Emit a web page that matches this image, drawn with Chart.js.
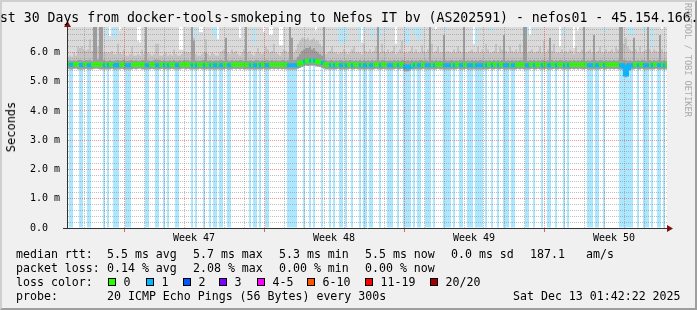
<!DOCTYPE html>
<html>
<head>
<meta charset="utf-8">
<title>Last 30 Days - nefos01</title>
<script src="https://cdn.jsdelivr.net/npm/chart.js@4.4.1/dist/chart.umd.min.js"></script>
<style>
html, body { margin: 0; padding: 0; background: #f0f0f0; }
#graph { position: relative; width: 697px; height: 310px; overflow: hidden; background: #f0f0f0;
         font-family: 'DejaVu Sans Mono', monospace; color: #000; }
#graph .frame { position: absolute; left: 0; top: 0; right: 0; bottom: 0; border: 2px solid;
                border-color: #cfcfcf #9e9e9e #9e9e9e #cfcfcf; }
#chart { position: absolute; left: 0; top: 0; }
#title { position: absolute; left: -16px; top: 10px; white-space: pre; font-size: 13.2px; line-height: 16px; }
#ylabel { position: absolute; left: 11px; top: 127px; white-space: pre; font-size: 12px; line-height: 14px;
          transform: translate(-50%, -50%) rotate(-90deg); }
#mark { position: absolute; left: 683px; top: 3px; writing-mode: vertical-rl; white-space: pre;
        font-size: 8.6px; line-height: 10px; color: #aaa; }
.txt { position: absolute; white-space: pre; font-size: 11.6px; line-height: 14px; }
.sw { position: absolute; top: 278px; width: 8px; height: 8px; box-sizing: border-box; border: 1px solid #000; }
</style>
</head>
<body>
<div id="graph">
  <div class="frame"></div>
  <canvas id="chart" width="697" height="310"></canvas>
  <div id="title">Last 30 Days from docker-tools-smokeping to Nefos IT bv (AS202591) - nefos01 - 45.154.166.</div>
  <div id="ylabel">Seconds</div>
  <div id="mark">RRDTOOL / TOBI OETIKER</div>

  <div class="txt" style="left:16px;top:247px">median rtt:</div>
  <div class="txt" style="left:107px;top:247px">5.5 ms avg</div>
  <div class="txt" style="left:193px;top:247px">5.7 ms max</div>
  <div class="txt" style="left:279px;top:247px">5.3 ms min</div>
  <div class="txt" style="left:365px;top:247px">5.5 ms now</div>
  <div class="txt" style="left:451px;top:247px">0.0 ms sd</div>
  <div class="txt" style="left:530px;top:247px">187.1</div>
  <div class="txt" style="left:586px;top:247px">am/s</div>

  <div class="txt" style="left:16px;top:261px">packet loss:</div>
  <div class="txt" style="left:107px;top:261px">0.14 % avg</div>
  <div class="txt" style="left:193px;top:261px">2.08 % max</div>
  <div class="txt" style="left:279px;top:261px">0.00 % min</div>
  <div class="txt" style="left:365px;top:261px">0.00 % now</div>

  <div class="txt" style="left:16px;top:275px">loss color:</div>
  <div id="legend"></div>

  <div class="txt" style="left:16px;top:289px">probe:</div>
  <div class="txt" style="left:107px;top:289px">20 ICMP Echo Pings (56 Bytes) every 300s</div>
  <div class="txt" style="left:513px;top:289px">Sat Dec 13 01:42:22 2025</div>
</div>

<script>
/* =====================
  data
===================== */

var lossColors = ['#26ff00', '#00b8ff', '#0059ff', '#7e00ff', '#ff00ff', '#ff5500', '#ff0000', '#a00000'];
var lossLabels = ['0', '1', '2', '3', '4-5', '6-10', '11-19', '20/20'];
var weekLabels = ['Week 47', 'Week 48', 'Week 49', 'Week 50'];
var yTop = 6.87; // ms at the top edge of the graph

// lost pings per slot (300 slots of 2.4 h, one line = one day)
var loss = [
  0,1,1,0,0,0,1,1,0,0,
  1,1,0,0,0,0,0,0,1,0,
  1,0,0,1,1,1,0,0,0,1,
  1,1,0,0,0,0,0,0,0,1,
  1,0,0,0,1,1,0,0,1,0,
  1,0,0,0,1,1,0,0,0,0,
  0,0,1,0,1,0,0,0,1,0,
  0,1,0,1,1,0,1,1,0,0,
  1,1,0,0,0,0,0,0,0,0,
  0,1,0,1,1,0,1,0,0,1,
  1,0,0,0,0,0,0,0,0,0,
  1,1,1,1,1,0,0,0,1,0,
  0,1,0,1,0,0,0,1,0,0,
  0,1,0,1,0,0,1,1,0,1,
  0,0,1,0,0,0,1,0,1,1,
  0,1,1,0,0,0,1,0,0,0,
  1,1,1,0,0,1,0,0,1,1,
  1,1,0,1,0,1,1,0,0,1,
  1,1,0,1,0,0,0,0,1,1,
  1,1,0,1,0,0,1,1,0,0,
  1,1,1,0,1,1,1,1,0,1,
  0,0,1,0,0,1,0,0,1,1,
  1,0,1,1,0,0,0,0,0,1,
  1,0,0,1,0,0,0,1,0,0,
  1,1,0,0,1,0,0,0,1,0,
  1,0,0,0,0,0,0,0,0,0,
  1,1,1,0,1,1,0,0,1,0,
  0,0,0,0,0,0,1,1,1,1,
  1,1,1,0,0,1,0,0,1,1,
  1,0,1,0,0,1,1,0,1,0
];

// median rtt (ms)
var median = [
  5.6,5.58,5.58,5.6,5.6,5.59,5.57,5.57,5.59,5.6,
  5.56,5.56,5.58,5.59,5.6,5.59,5.58,5.58,5.56,5.58,
  5.56,5.58,5.59,5.56,5.56,5.57,5.58,5.59,5.58,5.56,
  5.56,5.56,5.58,5.59,5.58,5.59,5.6,5.58,5.58,5.56,
  5.56,5.58,5.59,5.58,5.56,5.56,5.58,5.59,5.56,5.58,
  5.56,5.58,5.59,5.58,5.56,5.56,5.58,5.59,5.6,5.58,
  5.59,5.58,5.56,5.58,5.56,5.58,5.59,5.58,5.56,5.58,
  5.58,5.56,5.58,5.56,5.56,5.58,5.56,5.56,5.58,5.59,
  5.56,5.56,5.58,5.59,5.58,5.59,5.58,5.59,5.58,5.58,
  5.58,5.56,5.58,5.56,5.56,5.58,5.56,5.58,5.59,5.56,
  5.56,5.58,5.59,5.58,5.59,5.58,5.59,5.58,5.59,5.58,
  5.56,5.56,5.56,5.56,5.56,5.6,5.62,5.66,5.7,5.72,
  5.7,5.72,5.71,5.72,5.7,5.68,5.66,5.64,5.6,5.58,
  5.58,5.56,5.58,5.56,5.58,5.59,5.56,5.56,5.58,5.56,
  5.58,5.59,5.56,5.58,5.59,5.58,5.56,5.58,5.56,5.56,
  5.58,5.56,5.56,5.58,5.59,5.58,5.56,5.58,5.59,5.58,
  5.56,5.56,5.56,5.58,5.59,5.56,5.58,5.59,5.52,5.5,
  5.5,5.52,5.58,5.56,5.58,5.56,5.56,5.58,5.59,5.56,
  5.56,5.56,5.58,5.56,5.58,5.59,5.58,5.58,5.56,5.56,
  5.56,5.56,5.58,5.56,5.58,5.59,5.56,5.56,5.58,5.59,
  5.56,5.56,5.56,5.58,5.56,5.56,5.56,5.56,5.58,5.56,
  5.58,5.59,5.56,5.58,5.59,5.56,5.58,5.59,5.56,5.56,
  5.56,5.58,5.56,5.56,5.58,5.59,5.58,5.59,5.58,5.56,
  5.56,5.58,5.59,5.56,5.58,5.59,5.58,5.56,5.58,5.59,
  5.56,5.56,5.58,5.59,5.56,5.58,5.59,5.58,5.56,5.58,
  5.56,5.58,5.59,5.58,5.59,5.58,5.59,5.58,5.58,5.59,
  5.56,5.56,5.56,5.58,5.56,5.56,5.58,5.59,5.56,5.58,
  5.59,5.58,5.59,5.58,5.59,5.58,5.56,5.56,5.52,5.25,
  5.45,5.56,5.56,5.58,5.59,5.56,5.58,5.59,5.56,5.56,
  5.56,5.58,5.56,5.58,5.59,5.56,5.56,5.58,5.56,5.58
];

// smoke: fastest ping (ms)
var smokeLo = [
  5.44,5.43,5.42,5.44,5.45,5.43,5.42,5.42,5.43,5.44,
  5.42,5.42,5.43,5.44,5.45,5.44,5.43,5.43,5.42,5.43,
  5.42,5.43,5.44,5.42,5.42,5.43,5.43,5.44,5.43,5.42,
  5.42,5.42,5.43,5.44,5.43,5.44,5.45,5.43,5.43,5.42,
  5.42,5.43,5.44,5.43,5.42,5.42,5.43,5.44,5.42,5.43,
  5.42,5.43,5.44,5.43,5.42,5.42,5.43,5.44,5.45,5.43,
  5.44,5.43,5.42,5.43,5.42,5.43,5.44,5.43,5.42,5.43,
  5.43,5.42,5.43,5.42,5.42,5.43,5.42,5.42,5.43,5.44,
  5.42,5.42,5.43,5.44,5.43,5.44,5.43,5.44,5.43,5.43,
  5.43,5.42,5.43,5.42,5.42,5.43,5.42,5.43,5.44,5.42,
  5.42,5.43,5.44,5.43,5.44,5.43,5.44,5.43,5.44,5.43,
  5.42,5.42,5.42,5.42,5.42,5.45,5.47,5.5,5.53,5.55,
  5.54,5.55,5.55,5.55,5.53,5.52,5.5,5.48,5.45,5.43,
  5.43,5.42,5.43,5.42,5.43,5.44,5.42,5.42,5.43,5.42,
  5.43,5.44,5.42,5.43,5.44,5.43,5.42,5.43,5.42,5.42,
  5.43,5.42,5.42,5.43,5.44,5.43,5.42,5.43,5.44,5.43,
  5.42,5.42,5.42,5.43,5.44,5.42,5.43,5.44,5.38,5.36,
  5.36,5.38,5.43,5.42,5.43,5.42,5.42,5.43,5.44,5.42,
  5.42,5.42,5.43,5.42,5.43,5.44,5.43,5.43,5.42,5.42,
  5.42,5.42,5.43,5.42,5.43,5.44,5.42,5.42,5.43,5.44,
  5.42,5.42,5.42,5.43,5.42,5.42,5.42,5.42,5.43,5.42,
  5.43,5.44,5.42,5.43,5.44,5.42,5.43,5.44,5.42,5.42,
  5.42,5.43,5.42,5.42,5.43,5.44,5.43,5.44,5.43,5.42,
  5.42,5.43,5.44,5.42,5.43,5.44,5.43,5.42,5.43,5.44,
  5.42,5.42,5.43,5.44,5.42,5.43,5.44,5.43,5.42,5.43,
  5.42,5.43,5.44,5.43,5.44,5.43,5.44,5.43,5.43,5.44,
  5.42,5.42,5.42,5.43,5.42,5.42,5.43,5.44,5.42,5.43,
  5.44,5.43,5.44,5.43,5.44,5.43,5.42,5.42,5.38,5.15,
  5.34,5.42,5.42,5.43,5.44,5.42,5.43,5.44,5.42,5.42,
  5.42,5.43,5.42,5.43,5.44,5.42,5.42,5.43,5.42,5.43
];

// smoke: dense part around the median (ms)
var smokeDark = [
  5.72,5.74,5.72,5.73,5.72,5.74,5.75,5.73,5.72,5.74,
  5.73,5.75,5.72,6.9,6.9,5.76,6.9,6.9,5.74,5.72,
  5.72,5.73,5.72,5.72,5.73,5.74,5.72,5.73,5.75,5.72,
  5.72,5.73,5.74,5.72,5.73,5.72,5.72,5.74,5.73,6.9,
  5.73,5.72,5.72,5.74,5.76,5.75,5.73,5.72,5.73,5.72,
  5.72,5.73,5.72,5.74,5.72,5.72,5.73,5.72,5.74,5.73,
  5.73,5.72,6.9,6.4,5.73,5.72,5.72,5.73,5.74,6.0,
  5.72,5.73,5.72,5.72,5.73,5.72,5.74,5.73,5.72,6.5,
  5.73,5.72,5.74,5.72,5.73,5.72,5.74,5.73,5.72,6.9,
  5.72,5.73,5.72,5.72,5.74,5.73,5.72,5.73,5.72,5.74,
  5.73,5.72,5.74,5.72,5.73,5.72,5.72,5.74,5.73,5.72,
  5.73,6.9,6.5,5.74,5.76,5.85,5.95,6.05,6.1,6.15,
  6.15,6.2,6.1,6.15,6.05,6.0,5.95,5.9,6.9,5.74,
  5.72,5.73,5.74,5.72,5.73,5.72,5.74,5.73,5.72,5.73,
  5.72,5.74,5.73,5.72,5.73,5.72,5.74,5.72,5.73,5.72,
  5.73,5.72,5.74,5.72,5.73,6.9,5.72,5.74,5.73,5.72,
  5.72,5.73,5.72,5.74,5.72,5.73,5.72,5.74,5.73,5.72,
  5.73,5.72,5.74,5.72,5.73,5.72,5.74,5.73,5.72,5.73,
  5.72,6.9,5.73,5.72,5.74,5.72,5.73,5.72,6.6,5.73,
  5.72,5.73,5.74,5.72,5.73,5.72,5.74,5.73,6.9,5.72,
  5.73,5.72,5.74,5.72,5.73,5.72,5.74,5.73,5.72,5.73,
  5.72,5.73,5.72,5.74,5.72,5.73,5.72,5.74,6.6,5.72,
  5.73,5.72,5.74,5.72,5.73,5.72,5.74,5.73,6.9,6.9,
  5.72,5.73,5.72,5.74,5.72,5.73,5.72,5.74,5.73,5.72,
  5.73,6.5,5.74,5.72,5.73,5.72,5.74,5.73,5.72,5.73,
  5.72,5.73,5.72,5.74,5.72,5.73,5.72,5.74,6.9,5.72,
  5.73,5.72,5.74,6.6,5.73,5.72,5.74,5.73,5.72,5.73,
  5.72,5.73,5.72,5.74,5.72,5.73,6.9,6.9,5.74,5.73,
  5.72,5.73,5.72,6.5,5.72,5.73,5.72,5.74,5.73,5.72,
  6.9,5.73,5.72,5.74,5.72,5.73,6.6,5.72,5.73,5.72
];

// smoke: most pings (ms)
var smokeMid = [
  5.85,5.9,5.85,6.0,5.9,6.2,6.15,6.2,6.1,6.05,
  6.1,6.45,6.05,6.3,6.3,6.2,6.3,6.3,6.0,6.0,
  6.0,6.0,6.05,5.95,5.95,6.3,6.0,5.95,6.1,5.9,
  5.9,5.95,6.2,5.9,5.9,5.95,5.9,6.1,5.95,5.9,
  6.0,5.95,5.9,5.95,6.3,6.3,5.9,5.9,5.95,6.0,
  5.9,5.95,5.9,6.1,5.95,5.9,5.9,5.95,6.05,6.0,
  6.0,6.0,6.3,6.5,5.95,5.9,5.9,5.95,6.0,6.45,
  5.95,5.9,6.0,5.95,5.9,5.9,6.0,6.05,6.1,6.2,
  6.0,5.95,6.1,6.0,6.05,5.95,5.9,6.0,6.1,6.3,
  6.0,6.05,5.95,5.9,6.0,6.15,6.0,5.95,6.0,6.2,
  6.1,6.0,6.05,6.3,6.0,5.95,5.9,6.0,6.1,6.05,
  6.0,6.05,6.2,6.0,6.1,6.3,6.4,6.5,6.5,6.45,
  6.5,6.4,6.45,6.5,6.4,6.4,6.3,6.2,6.0,5.95,
  6.0,6.05,6.2,6.0,6.0,5.95,6.0,6.0,6.1,6.0,
  5.95,6.0,6.1,6.2,6.0,6.0,6.0,5.95,6.3,6.05,
  6.0,6.1,6.0,6.05,6.2,6.0,6.0,6.3,6.05,6.0,
  6.1,6.0,6.05,6.2,5.95,6.0,6.1,6.4,6.0,6.0,
  6.0,6.05,6.2,6.0,6.1,6.0,6.0,6.25,6.05,6.0,
  6.1,6.0,6.3,6.0,6.05,6.2,6.0,6.0,6.1,6.0,
  6.05,6.0,6.0,6.1,6.0,6.2,6.05,6.0,6.4,6.0,
  6.0,6.05,6.1,6.0,6.0,6.2,6.0,6.1,6.0,6.3,
  6.1,6.0,6.0,6.05,6.3,6.0,6.2,6.1,6.0,6.05,
  6.0,6.2,6.05,6.0,6.1,6.0,6.3,6.0,6.05,6.2,
  6.0,6.05,6.1,6.0,6.0,6.05,6.2,6.0,6.4,6.0,
  6.1,6.0,6.05,6.3,6.0,6.0,6.0,6.1,6.0,6.05,
  6.0,6.1,6.05,5.95,6.2,6.0,6.0,6.1,6.2,6.0,
  6.05,6.1,6.0,6.3,6.0,6.05,6.2,6.0,6.0,6.1,
  6.0,6.05,6.1,6.0,6.2,6.1,6.0,6.2,6.3,6.5,
  6.2,6.1,6.05,6.0,6.1,6.0,6.2,6.0,6.05,6.1,
  6.0,6.1,6.0,6.1,6.05,6.0,6.0,6.1,6.0,6.0
];

// smoke: slowest ping (ms), 7 = beyond the top of the graph
var smokeHi = [
  7,7,7,7,7,7,7,7,7,7,
  7,7,7,7,7,7,7,7,7,7,
  6.45,6.55,7,6.5,6.45,7,6.75,7,7,7,
  7,7,7,7,7,6.4,6.35,7,7,7,
  7,7,7,7,7,7,7,7,7,7,
  7,7,7,7,7,7,6.1,6.1,7,7,
  7,7,7,7,6.45,7,6.7,6.7,7,7,
  7,7,7,6.6,6.45,6.45,7,7,7,7,
  7,7,7,7,7,7,6.5,7,7,7,
  7,7,7,6.3,7,7,7,7,6.7,7,
  7,6.6,6.6,7,7,7,6.25,6.25,7,7,
  7,7,7,7,7,7,7,7,7,7,
  7,7,7,7,6.75,7,7,7,7,7,
  7,7,7,7,7,7,6.3,6.3,7,6.35,
  7,7,7,7,7,7,6.35,6.35,6.7,7,
  7,7,6.5,7,7,7,6.5,7,7,7,
  6.75,7,7,7,6.3,7,7,7,7,6.3,
  6.3,7,7,6.6,7,6.4,6.5,7,7,7,
  7,7,7,7,6.8,7,7,7,7,6.75,
  7,7,7,7,7,7,7,7,7,7,
  7,7,7,6.3,6.3,7,6.8,7,7,7,
  7,7,6.7,7,7,7,7,7,7,7,
  7,7,7,7,7,7,7,7,7,7,
  6.6,6.6,7,6.8,7,7,7,7,7,7,
  7,7,7,7,7,7,6.2,7,6.6,7,
  7,7,7,6.15,7,6.75,7,7,7,7,
  7,7,7,7,7,7,7,7,6.7,7,
  7,7,7,7,7,7,7,7,7,7,
  7,6.6,6.6,7,7,7,7,7,6.7,7,
  7,7,6.2,7,7,7,7,6.8,7,7
];

// time axis: 10 slots per day, first midnight and first Sunday of the window
var slotsPerDay = 10;
var firstMidnight = 8.5;
var firstSunday = 2;
var days = 30;

/* =====================
  helpers
===================== */

var lossLevel = function(n) {
	if (n <= 3) return n;
	if (n <= 5) return 4;
	if (n <= 10) return 5;
	if (n <= 19) return 6;
	return 7;
};

var fade = function(hex, a) {
	var r = parseInt(hex.substr(1, 2), 16), g = parseInt(hex.substr(3, 2), 16), b = parseInt(hex.substr(5, 2), 16);
	return 'rgba(' + r + ',' + g + ',' + b + ',' + a + ')';
};

var floatBars = function(lo, hi) {
	return lo.map(function(v, i) { return { x: i + 0.5, y: [v, hi[i]] }; });
};

var dayTicks = [], weekStarts = [], weekMids = [];
for (var d = 0; d < days; d++) {
	var pos = firstMidnight + d * slotsPerDay;
	dayTicks.push(pos);
	if ((d - firstSunday) % 7 === 0 && d >= firstSunday) {
		weekStarts.push(pos);
		weekMids.push(pos + 3.5 * slotsPerDay);
	}
}
var xTicks = dayTicks.concat(weekMids.slice(0, weekLabels.length)).sort(function(a, b) { return a - b; });

var lossBars = [];
loss.forEach(function(n, i) {
	if (n > 0) lossBars.push({ x: i + 0.5, y: [0, yTop], n: n });
});

var medianPts = median.map(function(v, i) { return { x: i, y: v }; });
medianPts.push({ x: median.length, y: median[median.length - 1] });

var MAJOR = 'rgba(225,60,60,0.55)';
var MINOR = 'rgba(140,140,140,0.55)';
var NONE = 'rgba(0,0,0,0)';
var AXIS = '#333';
var tickFont = { family: 'DejaVu Sans Mono', size: 10 };

/* =====================
  plugin: canvas + arrows
===================== */

var frame = {
	id: 'frame',
	beforeDraw: function(chart) {
		var a = chart.chartArea, c = chart.ctx;
		c.save();
		c.fillStyle = '#ffffff';
		c.fillRect(a.left, a.top, a.right - a.left, a.bottom - a.top);
		c.restore();
	},
	afterDraw: function(chart) {
		var a = chart.chartArea, c = chart.ctx;
		c.save();
		c.fillStyle = '#7f0f0f';
		c.beginPath();
		c.moveTo(a.left - 3, a.top);
		c.lineTo(a.left + 4, a.top);
		c.lineTo(a.left + 0.5, a.top - 6);
		c.closePath();
		c.fill();
		c.beginPath();
		c.moveTo(a.right, a.bottom - 3);
		c.lineTo(a.right, a.bottom + 4);
		c.lineTo(a.right + 6, a.bottom + 0.5);
		c.closePath();
		c.fill();
		c.restore();
	}
};

/* =====================
  chart
===================== */

var barOpts = { barPercentage: 1, categoryPercentage: 1, grouped: false, borderWidth: 0, inflateAmount: 0 };

var ctx = document.getElementById('chart').getContext('2d');
var myChart = new Chart(ctx, {
	type: 'bar',
	data: {
		datasets: [
			{
				type: 'line',
				label: 'median',
				data: medianPts,
				stepped: 'before',
				borderWidth: 4,
				borderColor: lossColors[0],
				pointRadius: 0,
				segment: {
					borderColor: function(c) { return lossColors[lossLevel(loss[c.p0DataIndex] || 0)]; }
				}
			},
			Object.assign({ label: 'smoke dark', data: floatBars(smokeLo, smokeDark), backgroundColor: '#9d9d9d' }, barOpts),
			Object.assign({ label: 'smoke mid', data: floatBars(smokeLo, smokeMid), backgroundColor: '#c3c3c3' }, barOpts),
			Object.assign({ label: 'smoke', data: floatBars(smokeLo, smokeHi), backgroundColor: '#dadada' }, barOpts),
			Object.assign({
				label: 'loss',
				data: lossBars,
				backgroundColor: function(c) { return fade(lossColors[lossLevel(c.raw ? c.raw.n : 1)], 0.33); }
			}, barOpts)
		]
	},
	options: {
		responsive: false,
		animation: false,
		events: [],
		layout: { padding: { left: 0, right: 30, top: 27, bottom: 62 } },
		plugins: { legend: { display: false }, tooltip: { enabled: false }, title: { display: false } },
		scales: {
			x: {
				type: 'linear',
				min: 0,
				max: loss.length,
				offset: false,
				afterBuildTicks: function(s) { s.ticks = xTicks.map(function(v) { return { value: v }; }); },
				afterFit: function(s) { s.height = 20; },
				ticks: {
					autoSkip: false, maxRotation: 0, minRotation: 0, padding: 0,
					color: '#000', font: tickFont,
					callback: function(v) { var k = weekMids.indexOf(v); return k < 0 ? '' : weekLabels[k]; }
				},
				grid: {
					z: 1, offset: false, tickLength: 4,
					color: function(c) {
						var v = c.tick ? c.tick.value : -1;
						if (weekMids.indexOf(v) >= 0) return NONE;
						return weekStarts.indexOf(v) >= 0 ? MAJOR : MINOR;
					},
					tickColor: function(c) {
						return c.tick && weekStarts.indexOf(c.tick.value) >= 0 ? 'rgba(225,60,60,0.8)' : NONE;
					}
				},
				border: { display: true, color: AXIS, width: 1, dash: [1, 1], z: 2 }
			},
			y: {
				min: 0,
				max: yTop,
				afterFit: function(s) { s.width = 67; },
				ticks: {
					stepSize: 0.2, includeBounds: false, autoSkip: false, padding: 3,
					color: '#000', font: tickFont,
					callback: function(v) {
						if (Math.abs(v - Math.round(v)) > 1e-6) return '';
						return v === 0 ? '0.0  ' : v.toFixed(1) + ' m';
					}
				},
				grid: {
					z: 1, tickLength: 4,
					color: function(c) {
						var v = c.tick ? c.tick.value : 0;
						return Math.abs(v - Math.round(v)) < 1e-6 ? MAJOR : MINOR;
					},
					tickColor: function(c) { return c.tick && c.tick.value === 0 ? AXIS : NONE; }
				},
				border: { display: true, color: AXIS, width: 1, dash: [1, 1], z: 2 }
			}
		}
	},
	plugins: [frame]
});

/* =====================
  loss colour legend
===================== */

var swatchX = [108, 146, 183, 219, 257, 307, 365, 430];
var legend = document.getElementById('legend');
lossLabels.forEach(function(txt, i) {
	var sw = document.createElement('div');
	sw.className = 'sw';
	sw.style.left = swatchX[i] + 'px';
	sw.style.background = lossColors[i];
	legend.appendChild(sw);
	var lb = document.createElement('div');
	lb.className = 'txt';
	lb.style.left = (swatchX[i] + 15.5) + 'px';
	lb.style.top = '275px';
	lb.textContent = txt;
	legend.appendChild(lb);
});
</script>
</body>
</html>
